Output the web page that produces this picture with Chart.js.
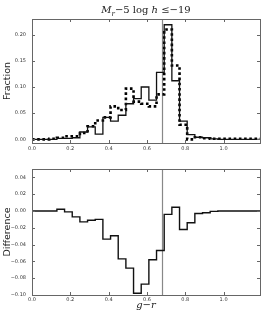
<!DOCTYPE html>
<html>
<head>
<meta charset="utf-8">
<script src="https://cdn.jsdelivr.net/npm/chart.js@4.4.0/dist/chart.umd.min.js"></script>
<style>
  html, body { margin: 0; padding: 0; background: #fff; }
  #wrap { position: relative; width: 264px; height: 315px; }
  canvas { position: absolute; left: 0; }
</style>
</head>
<body>
<div id="wrap">
  <canvas id="fractionChart" width="264" height="155" style="top:0"></canvas>
  <canvas id="differenceChart" width="264" height="160" style="top:155px"></canvas>
</div>
<script>
// bin edges in g-r (last one closes the final bin at the right edge)
const binEdges = [0.0, 0.05, 0.09, 0.13, 0.17, 0.21, 0.25, 0.29, 0.33, 0.37,
  0.41, 0.45, 0.49, 0.53, 0.57, 0.61, 0.65, 0.69, 0.73, 0.77,
  0.81, 0.85, 0.89, 0.93, 0.97, 1.01, 1.05, 1.09, 1.13, 1.17, 1.19];

const fractionSolid = [0, 0, 0, 0.002, 0.002, 0.003, 0.014, 0.024, 0.010, 0.042,
  0.035, 0.046, 0.068, 0.078, 0.100, 0.075, 0.128, 0.219, 0.112, 0.035,
  0.009, 0.004, 0.003, 0.001, 0, 0, 0, 0, 0, 0];

const fractionDotted = [0, 0, 0.001, 0.003, 0.006, 0.006, 0.012, 0.025, 0.036, 0.042,
  0.063, 0.056, 0.097, 0.072, 0.068, 0.063, 0.086, 0.210, 0.141, 0.028,
  0.000, 0.004, 0.002, 0.001, 0.001, 0.001, 0.001, 0.001, 0.001, 0.001];

const difference = [0, 0, 0, 0.002, -0.001, -0.007, -0.013, -0.011, -0.010, -0.0335,
  -0.0295, -0.057, -0.068, -0.098, -0.087, -0.058, -0.047, -0.004, 0.0045, -0.022,
  -0.014, -0.003, -0.002, -0.0005, 0, 0, 0, 0, 0, 0];

const xTicks = [0.0, 0.2, 0.4, 0.6, 0.8, 1.0];
const fractionTicks = [0.00, 0.05, 0.10, 0.15, 0.20];
const differenceTicks = [-0.10, -0.08, -0.06, -0.04, -0.02, 0.00, 0.02, 0.04];
const colourCut = 0.68;

const tickFont = { family: 'DejaVu Sans', size: 5 };
const frameColour = '#666';

// per-bin values -> points at each left edge, final value repeated at the closing edge.
// Chart.js 'before' stepping holds the previous value until the next x, i.e. a histogram.
function steps(values) {
  return binEdges.map((x, i) => ({ x: x, y: values[Math.min(i, values.length - 1)] }));
}

function fixedTicks(list) {
  return scale => { scale.ticks = list.map(v => ({ value: v })); };
}

function minusSign(v, digits) {
  return v.toFixed(digits).replace('-', '\u2212');
}

// frame box, matplotlib style inward ticks and the vertical colour cut
const framePlugin = {
  id: 'frame',
  beforeDatasetsDraw(chart) {
    const { ctx, chartArea: a, scales: { x } } = chart;
    const px = Math.round(x.getPixelForValue(colourCut)) + 0.5;
    ctx.save();
    ctx.strokeStyle = '#888';
    ctx.lineWidth = 1.2;
    ctx.beginPath();
    ctx.moveTo(px, a.top);
    ctx.lineTo(px, a.bottom);
    ctx.stroke();
    ctx.restore();
  },
  afterDatasetsDraw(chart) {
    const { ctx, chartArea: a, scales: { x, y } } = chart;
    const len = 3;
    ctx.save();
    ctx.strokeStyle = frameColour;
    ctx.lineWidth = 1;
    ctx.strokeRect(Math.round(a.left) + 0.5, Math.round(a.top) + 0.5,
      Math.round(a.right - a.left), Math.round(a.bottom - a.top));
    ctx.beginPath();
    x.ticks.forEach(t => {
      const px = Math.round(x.getPixelForValue(t.value)) + 0.5;
      ctx.moveTo(px, a.bottom); ctx.lineTo(px, a.bottom - len);
      ctx.moveTo(px, a.top); ctx.lineTo(px, a.top + len);
    });
    y.ticks.forEach(t => {
      const py = Math.round(y.getPixelForValue(t.value)) + 0.5;
      ctx.moveTo(a.left, py); ctx.lineTo(a.left + len, py);
      ctx.moveTo(a.right, py); ctx.lineTo(a.right - len, py);
    });
    ctx.stroke();
    ctx.restore();
  }
};

// title with mathtext-like pieces: M_r -5 log h <= -19
const titleParts = [
  { text: 'M', style: 'italic', size: 10, shift: 0 },
  { text: 'r', style: 'italic', size: 7, shift: 2.5 },
  { text: '\u22125 log ', style: 'normal', size: 10, shift: 0 },
  { text: 'h', style: 'italic', size: 10, shift: 0 },
  { text: ' \u2264\u221219', style: 'normal', size: 10, shift: 0 }
];

const titlePlugin = {
  id: 'mathTitle',
  afterDraw(chart) {
    const { ctx, chartArea: a } = chart;
    const fontOf = p => `${p.style} ${p.size}px "DejaVu Serif"`;
    ctx.save();
    let total = 0;
    titleParts.forEach(p => { ctx.font = fontOf(p); total += ctx.measureText(p.text).width; });
    let cx = (a.left + a.right) / 2 - total / 2;
    ctx.fillStyle = '#222';
    ctx.textBaseline = 'alphabetic';
    titleParts.forEach(p => {
      ctx.font = fontOf(p);
      ctx.fillText(p.text, cx, 13 + p.shift);
      cx += ctx.measureText(p.text).width;
    });
    ctx.restore();
  }
};

function xScale(height, pad, title) {
  return {
    type: 'linear', min: 0, max: 1.19,
    afterBuildTicks: fixedTicks(xTicks),
    afterFit: s => { s.height = height; },
    grid: { display: false, drawTicks: false },
    border: { display: false },
    ticks: { font: tickFont, color: '#333', padding: pad, maxRotation: 0,
      callback: v => v.toFixed(1) },
    title: title
  };
}

function yScale(min, max, ticks, label, fmt) {
  return {
    type: 'linear', min: min, max: max,
    afterBuildTicks: fixedTicks(ticks),
    afterFit: s => { s.width = 32; },
    grid: { display: false, drawTicks: false },
    border: { display: false },
    ticks: { font: tickFont, color: '#333', padding: 6, callback: fmt },
    title: { display: true, text: label, color: '#222', padding: { top: 2, bottom: 0 },
      font: { family: 'DejaVu Sans', size: 9.5 } }
  };
}

const common = {
  responsive: false,
  animation: false,
  devicePixelRatio: 1,
  plugins: { legend: { display: false }, tooltip: { enabled: false } },
  elements: { point: { radius: 0 } }
};

new Chart(document.getElementById('fractionChart'), {
  type: 'line',
  data: {
    datasets: [
      { data: steps(fractionSolid), stepped: 'before', borderColor: '#111', borderWidth: 1.3, fill: false },
      { data: steps(fractionDotted), stepped: 'before', borderColor: '#000', borderWidth: 2.6,
        borderDash: [2.6, 2.6], fill: false }
    ]
  },
  options: {
    ...common,
    layout: { padding: { top: 19, right: 4, left: 0, bottom: 0 } },
    scales: {
      x: xScale(12, 3, { display: false }),
      y: yScale(-0.007, 0.23, fractionTicks, 'Fraction', v => v.toFixed(2))
    }
  },
  plugins: [framePlugin, titlePlugin]
});

new Chart(document.getElementById('differenceChart'), {
  type: 'line',
  data: {
    datasets: [
      { data: steps(difference), stepped: 'before', borderColor: '#111', borderWidth: 1.4, fill: false }
    ]
  },
  options: {
    ...common,
    layout: { padding: { top: 14, right: 4, left: 0, bottom: 0 } },
    scales: {
      x: xScale(20, 2, { display: true, text: 'g\u2212r', color: '#222', padding: { top: 0, bottom: 4 },
        font: { family: 'DejaVu Serif', size: 10, style: 'italic' } }),
      y: yScale(-0.10, 0.05, differenceTicks, 'Difference', v => minusSign(v, 2))
    }
  },
  plugins: [framePlugin]
});
</script>
</body>
</html>
